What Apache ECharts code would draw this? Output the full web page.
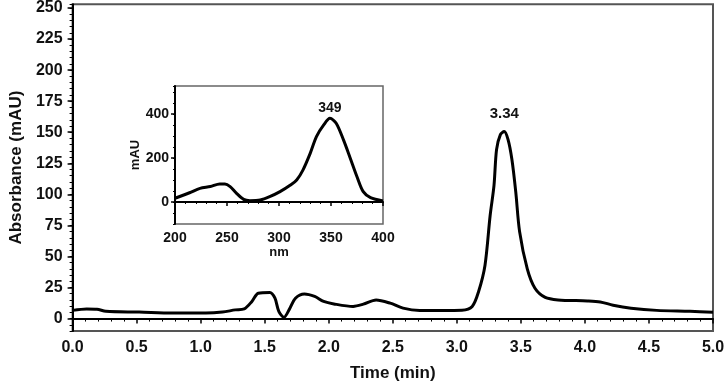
<!DOCTYPE html>
<html>
<head>
<meta charset="utf-8">
<script src="https://cdn.jsdelivr.net/npm/echarts@6/dist/echarts.min.js"></script>
<style>
  html, body { margin: 0; padding: 0; background: #fff; }
  #chart { width: 728px; height: 387px; }
</style>
</head>
<body>
<div id="chart"></div>
<script>
// chromatogram (main trace)
const mainTime = [0.00, 0.11, 0.19, 0.26, 0.52, 0.78, 1.04, 1.17, 1.27, 1.34, 1.40, 1.45, 1.54, 1.58, 1.61, 1.65, 1.69, 1.74, 1.81, 1.89, 1.96, 2.04, 2.19, 2.27, 2.37, 2.48, 2.58, 2.71, 2.89, 3.04, 3.12, 3.17, 3.22, 3.26, 3.29, 3.31, 3.34, 3.37, 3.40, 3.43, 3.46, 3.49, 3.55, 3.61, 3.69, 3.79, 4.02, 4.12, 4.22, 4.36, 4.56, 4.82, 5.00];
const mainAbs = [6.6, 7.8, 7.6, 5.8, 5.2, 4.4, 4.4, 5.2, 7.0, 7.8, 13.8, 20.4, 21.0, 16.4, 5.8, 1.0, 7.0, 16.4, 19.8, 17.8, 13.8, 11.8, 9.8, 11.6, 15.0, 12.4, 8.4, 6.6, 6.6, 6.8, 9.8, 21.8, 43, 83, 107, 136, 148, 150.6, 144, 128, 102, 70, 40, 24.4, 17, 15, 14.2, 13.4, 10.8, 8.4, 6.6, 5.8, 5.0];
const mainPeakLabel = '3.34';
const mainYTicks = [0, 25, 50, 75, 100, 125, 150, 175, 200, 225, 250];

// UV spectrum (inset)
const insetNm = [200, 214, 224, 234, 243, 248, 253, 259, 266, 272, 282, 291, 301, 311, 317, 323, 330, 336, 343, 349, 355, 362, 368, 375, 381, 388, 400];
const insetAbs = [17, 42, 62, 70, 82, 82, 70, 40, 12, 6, 9, 24, 47, 77, 100, 145, 221, 297, 350, 380, 358, 282, 206, 115, 47, 20, 5];
const insetPeakLabel = '349';
const insetYTicks = [0, 200, 400];

const FONT = 'Liberation Sans';

function peakMark(xs, ys, text, dist, size) {
  let peak = 0;
  ys.forEach((v, i) => { if (v > ys[peak]) peak = i; });
  return {
    silent: true,
    symbol: 'circle', symbolSize: 1,
    itemStyle: { color: 'rgba(0,0,0,0)' },
    label: {
      show: true, position: 'top', distance: dist, formatter: text,
      fontFamily: FONT, fontWeight: 'bold', fontSize: size, color: '#111'
    },
    data: [{ coord: [xs[peak], ys[peak]] }]
  };
}

const chart = echarts.init(document.getElementById('chart'));

const axisLine = { show: true, lineStyle: { color: '#000', width: 2 } };

const option = {
  animation: false,
  backgroundColor: '#fff',
  grid: [
    { left: 66, right: 15, top: 4, bottom: 54, show: true, borderColor: '#555', borderWidth: 2 },
    { left: 175, right: 345, top: 86, bottom: 163, show: true, borderColor: '#666', borderWidth: 1.5, backgroundColor: '#fff' }
  ],
  xAxis: [
    {
      type: 'value', gridIndex: 0, min: 0, max: 5, interval: 0.5,
      axisLine: axisLine,
      axisTick: { show: true, length: 5, lineStyle: { color: '#000', width: 1.5 } },
      minorTick: { show: true, splitNumber: 5, length: 3, lineStyle: { color: '#000', width: 1 } },
      splitLine: { show: false },
      axisLabel: { margin: 9, fontFamily: FONT, fontWeight: 'bold', fontSize: 16, color: '#111',
        formatter: v => v.toFixed(1) },
      name: 'Time (min)', nameLocation: 'middle', nameGap: 34,
      nameTextStyle: { fontFamily: FONT, fontWeight: 'bold', fontSize: 17, color: '#111' }
    },
    {
      type: 'value', gridIndex: 1, min: 200, max: 400, interval: 50,
      axisLine: axisLine,
      axisTick: { show: true, length: 4, lineStyle: { color: '#000', width: 1.5 } },
      minorTick: { show: true, splitNumber: 5, length: 2, lineStyle: { color: '#000', width: 1 } },
      splitLine: { show: false },
      axisLabel: { margin: 7, fontFamily: FONT, fontWeight: 'bold', fontSize: 14, color: '#111' },
      name: 'nm', nameLocation: 'middle', nameGap: 21,
      nameTextStyle: { fontFamily: FONT, fontWeight: 'bold', fontSize: 13, color: '#111' }
    }
  ],
  yAxis: [
    {
      type: 'value', gridIndex: 0, position: 'left', min: -10, max: 253,
      axisLine: axisLine,
      axisTick: { show: true, length: 5, customValues: mainYTicks, lineStyle: { color: '#000', width: 1.5 } },
      splitLine: { show: false },
      axisLabel: { margin: 10, customValues: mainYTicks, fontFamily: FONT, fontWeight: 'bold', fontSize: 16, color: '#111' },
      name: 'Absorbance (mAU)', nameLocation: 'middle', nameGap: 46, nameRotate: 90,
      nameTextStyle: { fontFamily: FONT, fontWeight: 'bold', fontSize: 17, color: '#111' }
    },
    {
      // minor ticks only
      type: 'value', gridIndex: 0, position: 'left', offset: 0, min: -10, max: 253, interval: 5,
      axisLine: { show: false },
      axisTick: { show: true, length: 3, lineStyle: { color: '#000', width: 1 } },
      axisLabel: { show: false }, splitLine: { show: false }
    },
    {
      type: 'value', gridIndex: 1, position: 'left', min: -100, max: 527,
      axisLine: axisLine,
      axisTick: { show: true, length: 4, customValues: insetYTicks, lineStyle: { color: '#000', width: 1.5 } },
      splitLine: { show: false },
      axisLabel: { margin: 6, customValues: insetYTicks, fontFamily: FONT, fontWeight: 'bold', fontSize: 14, color: '#111' },
      name: 'mAU', nameLocation: 'middle', nameGap: 32, nameRotate: 90,
      nameTextStyle: { fontFamily: FONT, fontWeight: 'bold', fontSize: 13, color: '#111' }
    },
    {
      type: 'value', gridIndex: 1, position: 'left', offset: 0, min: -100, max: 527, interval: 50,
      axisLine: { show: false },
      axisTick: { show: true, length: 2, lineStyle: { color: '#000', width: 1 } },
      axisLabel: { show: false }, splitLine: { show: false }
    }
  ],
  series: [
    {
      name: 'chromatogram', type: 'line', xAxisIndex: 0, yAxisIndex: 0,
      smooth: 0.3, symbol: 'none',
      lineStyle: { color: '#000', width: 3 },
      data: mainTime.map((t, i) => [t, mainAbs[i]]),
      markPoint: peakMark(mainTime, mainAbs, mainPeakLabel, 10, 15)
    },
    {
      name: 'spectrum', type: 'line', xAxisIndex: 1, yAxisIndex: 2,
      smooth: 0.3, symbol: 'none',
      lineStyle: { color: '#000', width: 3 },
      data: insetNm.map((n, i) => [n, insetAbs[i]]),
      markPoint: peakMark(insetNm, insetAbs, insetPeakLabel, 3, 14)
    }
  ]
};

chart.setOption(option);
</script>
</body>
</html>
